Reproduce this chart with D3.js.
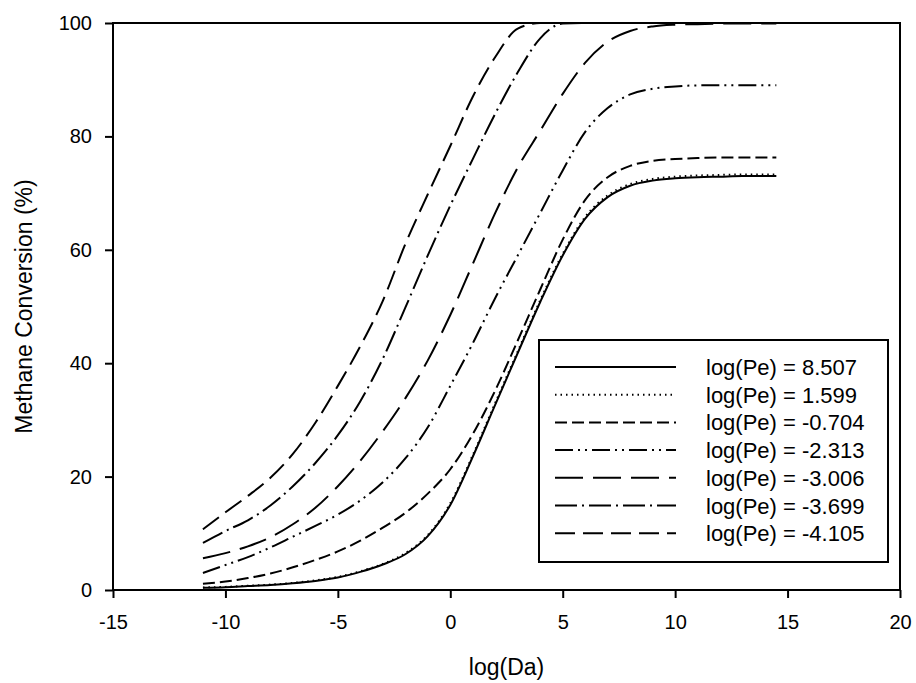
<!DOCTYPE html>
<html>
<head>
<meta charset="utf-8">
<script src="https://cdn.jsdelivr.net/npm/d3@7"></script>
<style>
  body { margin: 0; background: #fff; }
  text { font-family: Arial, "Liberation Sans", sans-serif; fill: #000; }
</style>
</head>
<body>
<div class="chart"></div>
<script>
// log(Da) sample points shared by every curve
var logDa = [-11, -10, -9, -8, -7, -6, -5, -4, -3, -2, -1, 0, 1, 2, 3, 4, 5, 6, 7, 8, 9, 10, 11, 12, 13, 14.5];

// legend labels, one per curve
var peLabels = ['log(Pe) = 8.507', 'log(Pe) = 1.599', 'log(Pe) = -0.704', 'log(Pe) = -2.313',
    'log(Pe) = -3.006', 'log(Pe) = -3.699', 'log(Pe) = -4.105'];

// methane conversion (%)
var conv8507 = [0.4, 0.5, 0.7, 0.9, 1.2, 1.6, 2.2, 3.2, 4.5, 6.3, 9.5, 15, 23.5, 32.7, 41.8, 50.8, 59, 65.5, 69.3, 71.3, 72.2, 72.6, 72.8, 72.9, 73, 73];
var conv1599 = [0.45, 0.55, 0.75, 0.95, 1.25, 1.7, 2.3, 3.3, 4.6, 6.5, 9.7, 15.3, 23.8, 33, 42.1, 51.1, 59.3, 65.8, 69.6, 71.6, 72.5, 72.9, 73.1, 73.2, 73.3, 73.3];
var conv0704 = [1.1, 1.5, 2.1, 2.9, 4.0, 5.3, 6.8, 8.7, 11, 13.6, 17, 21.3, 27.5, 35.2, 44, 53, 61.8, 68.8, 72.8, 74.8, 75.7, 76, 76.2, 76.3, 76.3, 76.3];
var conv2313 = [3.0, 4.4, 5.8, 7.5, 9.4, 11.3, 13.3, 15.8, 19, 23.2, 28.7, 36, 43.5, 51.5, 59, 66.5, 74, 80.8, 85, 87.4, 88.4, 88.8, 89, 89, 89, 89];
var conv3006 = [5.6, 6.5, 7.7, 9.3, 11.6, 14.5, 18.3, 22.8, 28, 33.8, 40.5, 48.5, 57.5, 66.5, 74.5, 81, 87.5, 93, 96.7, 98.6, 99.4, 99.7, 99.8, 99.9, 99.9, 99.9];
var conv3699 = [8.3, 10.4, 12.3, 14.9, 18.3, 22.4, 27.3, 33.3, 40.8, 49.8, 59, 67.8, 76, 84, 91.3, 97.3, 99.9, 100, 100, 100, 100, 100, 100, 100, 100, 100];
var conv4105 = [10.7, 13.7, 16.6, 19.8, 24, 29.5, 36, 43, 51, 61, 69.8, 78.3, 87, 94, 99, 100, 100, 100, 100, 100, 100, 100, 100, 100, 100, 100];

var xTicks = [-15, -10, -5, 0, 5, 10, 15, 20];
var yTicks = [0, 20, 40, 60, 80, 100];

var seriesValues = [conv8507, conv1599, conv0704, conv2313, conv3006, conv3699, conv4105];
// line styles like the sigmaplot ones
var dashes = [null, '1.5,4', '12,5', '18,5,2,5,2,5', '28,10', '22,5,2,5', '20,8'];

var width = 916, height = 683;
var padL = 113, padT = 23, padR = 900, padB = 590;

var svg = d3.select('.chart').append('svg')
    .attr('width', width)
    .attr('height', height);

var x = d3.scaleLinear().domain([-15, 20]).range([padL, padR]);
var y = d3.scaleLinear().domain([0, 100]).range([padB, padT]);

// curves
var line = d3.line()
    .x(function (d) { return x(d[0]); })
    .y(function (d) { return y(d[1]); })
    .curve(d3.curveMonotoneX);

svg.append('g').selectAll('path')
    .data(seriesValues)
    .enter()
    .append('path')
    .attr('d', function (vals) {
        return line(logDa.map(function (v, i) { return [v, vals[i]]; }));
    })
    .style('fill', 'none')
    .style('stroke', '#000')
    .style('stroke-width', 2)
    .style('stroke-dasharray', function (d, i) { return dashes[i]; });

// axes, plain hyphen for negatives like the original
var fmt = function (d) { return String(d); };
var xAxis = svg.append('g')
    .attr('transform', 'translate(0,' + padB + ')')
    .call(d3.axisBottom(x).tickValues(xTicks).tickFormat(fmt).tickSize(8).tickSizeOuter(0).tickPadding(17));
var yAxis = svg.append('g')
    .attr('transform', 'translate(' + padL + ',0)')
    .call(d3.axisLeft(y).tickValues(yTicks).tickFormat(fmt).tickSize(8).tickSizeOuter(0).tickPadding(13));

[xAxis, yAxis].forEach(function (g) {
    g.select('.domain').remove();
    g.selectAll('line').style('stroke', '#000').style('stroke-width', 2);
    g.selectAll('text').style('font-size', '20px').style('font-family', 'Arial, "Liberation Sans", sans-serif').style('fill', '#000');
});

// frame
svg.append('rect')
    .attr('x', padL).attr('y', padT)
    .attr('width', padR - padL).attr('height', padB - padT)
    .style('fill', 'none').style('stroke', '#000').style('stroke-width', 2);

// axis titles
svg.append('text')
    .text('log(Da)')
    .attr('x', (padL + padR) / 2).attr('y', 675)
    .attr('text-anchor', 'middle')
    .style('font-size', '23px');

svg.append('text')
    .text('Methane Conversion (%)')
    .attr('text-anchor', 'middle')
    .attr('transform', 'translate(32,' + (padT + padB) / 2 + ') rotate(-90)')
    .style('font-size', '23px');

// legend
var legend = svg.append('g');
legend.append('rect')
    .attr('x', 539).attr('y', 340)
    .attr('width', 349).attr('height', 222)
    .style('fill', '#fff').style('stroke', '#000').style('stroke-width', 2);

var rows = legend.selectAll('.row')
    .data(peLabels)
    .enter()
    .append('g')
    .attr('class', 'row')
    .attr('transform', function (d, i) { return 'translate(0,' + (367 + i * 27.7) + ')'; });

rows.append('line')
    .attr('x1', 555).attr('x2', 676)
    .style('stroke', '#000')
    .style('stroke-width', 2)
    .style('stroke-dasharray', function (d, i) { return dashes[i]; });

rows.append('text')
    .text(function (d) { return d; })
    .attr('x', 706).attr('y', 8)
    .style('font-size', '22px');
</script>
</body>
</html>
